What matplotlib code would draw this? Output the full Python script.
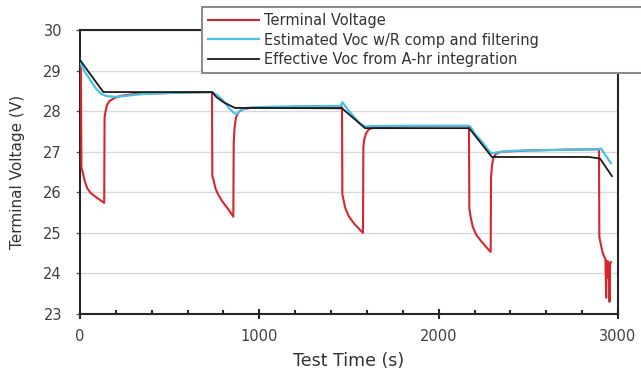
import matplotlib
matplotlib.use("Agg")
from matplotlib import pyplot as plt
from matplotlib.ticker import MultipleLocator
import numpy as np

# terminal voltage during the pulsed discharge test
t_term = [0, 5, 8, 15, 25, 40, 60, 90, 115, 135, 137, 143, 150, 165, 190, 230, 300, 450, 600, 735,
          736, 738, 745, 755, 770, 790, 815, 840, 855, 857, 862, 870, 885, 910, 950, 1100, 1300, 1460,
          1461, 1463, 1470, 1480, 1500, 1530, 1560, 1578, 1580, 1585, 1595, 1610, 1640, 1800, 2000, 2168,
          2169, 2171, 2178, 2190, 2210, 2240, 2265, 2290, 2292, 2297, 2305, 2320, 2350, 2500, 2700, 2893,
          2894, 2896, 2905, 2915, 2930, 2934, 2937, 2941, 2944, 2950, 2953, 2955, 2958, 2961]
v_term = [29.26, 29.0, 26.6, 26.5, 26.3, 26.1, 25.98, 25.88, 25.8, 25.74, 27.85, 28.0, 28.15, 28.25, 28.32, 28.38, 28.42, 28.44, 28.46, 28.47,
          28.47, 26.4, 26.3, 26.1, 25.95, 25.8, 25.65, 25.5, 25.4, 27.2, 27.6, 27.85, 27.98, 28.05, 28.08, 28.09, 28.1, 28.1,
          28.1, 25.95, 25.8, 25.6, 25.4, 25.22, 25.08, 25.0, 27.1, 27.3, 27.45, 27.55, 27.6, 27.62, 27.63, 27.63,
          27.63, 25.6, 25.4, 25.15, 24.95, 24.78, 24.65, 24.53, 26.35, 26.65, 26.85, 26.95, 27.0, 27.03, 27.05, 27.06,
          27.06, 24.9, 24.7, 24.5, 24.35, 23.4, 24.3, 23.9, 24.3, 24.25, 23.3, 24.2, 24.25, 24.28]

# open circuit voltage estimate (resistance compensated, filtered)
t_est = [0, 10, 30, 60, 90, 120, 150, 200, 260, 350, 500, 736, 745, 770, 800, 830, 860, 875, 895, 930, 1000, 1200, 1455,
         1462, 1475, 1500, 1530, 1560, 1590, 1620, 1800, 2170, 2180, 2200, 2230, 2250, 2275, 2295, 2320, 2400, 2600,
         2895, 2905, 2920, 2940, 2961]
v_est = [29.26, 29.1, 28.95, 28.75, 28.55, 28.42, 28.37, 28.35, 28.38, 28.42, 28.45, 28.47, 28.45, 28.38, 28.25, 28.08, 27.95, 27.93, 28.02, 28.08, 28.1, 28.12, 28.13,
         28.22, 28.15, 28.0, 27.85, 27.7, 27.62, 27.63, 27.64, 27.64, 27.6, 27.45, 27.3, 27.2, 27.05, 26.96, 26.98, 27.02, 27.04,
         27.06, 27.08, 26.98, 26.85, 26.72]

# effective Voc from amp-hour integration
t_eff = [0, 130, 736, 760, 800, 864, 1461, 1590, 2170, 2297, 2840, 2900, 2966]
v_eff = [29.26, 28.47, 28.47, 28.35, 28.22, 28.08, 28.07, 27.58, 27.58, 26.87, 26.87, 26.83, 26.4]

fig = plt.figure(figsize=(6.41, 3.69), dpi=100)
ax = fig.add_axes([80 / 641, 1 - 314 / 369, 538 / 641, 284 / 369])

ax.plot(t_term, v_term, color="#d7262b", lw=1.5, label="Terminal Voltage", zorder=3)
ax.plot(t_est, v_est, color="#45c2e6", lw=1.6, label="Estimated Voc w/R comp and filtering", zorder=4)
ax.plot(t_eff, v_eff, color="#1a1a1a", lw=1.3, label="Effective Voc from A-hr integration", zorder=5)

ax.set_xlim(0, 3000)
ax.set_ylim(23, 30)
ax.xaxis.set_major_locator(MultipleLocator(1000))
ax.xaxis.set_minor_locator(MultipleLocator(200))
ax.yaxis.set_major_locator(MultipleLocator(1))
ax.grid(axis="y", color="#d9d9d9", lw=1)
ax.set_axisbelow(True)

for s in ax.spines.values():
    s.set_color("#262626")
    s.set_linewidth(1.5)

ax.tick_params(axis="x", which="major", direction="inout", length=7, width=1.5,
               pad=7.5, labelsize=10.5, labelcolor="#404040", color="#262626")
ax.tick_params(axis="x", which="minor", direction="in", length=3, width=1.5, color="#262626")
ax.tick_params(axis="y", which="major", direction="out", length=3, width=1,
               pad=10, labelsize=10.5, labelcolor="#404040", color="#595959")

ax.set_xlabel("Test Time (s)", fontsize=12.5, color="#333333")
ax.xaxis.set_label_coords(0.5, -0.135)
ax.set_ylabel("Terminal Voltage (V)", fontsize=11,
              family=["Liberation Sans Narrow", "DejaVu Sans Condensed", "DejaVu Sans"],
              color="#333333")
ax.yaxis.set_label_coords(-0.102, 0.5)

leg = fig.legend(loc="upper left", bbox_to_anchor=(202 / 641, 1 - 7 / 369, 0.72, 0.0),
                 mode="expand", fontsize=10.5, handlelength=3.5, handletextpad=0.35,
                 labelspacing=0.32, borderpad=0.4, borderaxespad=0, fancybox=False,
                 framealpha=1, edgecolor="#8c8c8c")
leg.get_frame().set_linewidth(1.5)
for txt in leg.get_texts():
    txt.set_color("#333333")

fig.savefig("out.png", dpi=100)
